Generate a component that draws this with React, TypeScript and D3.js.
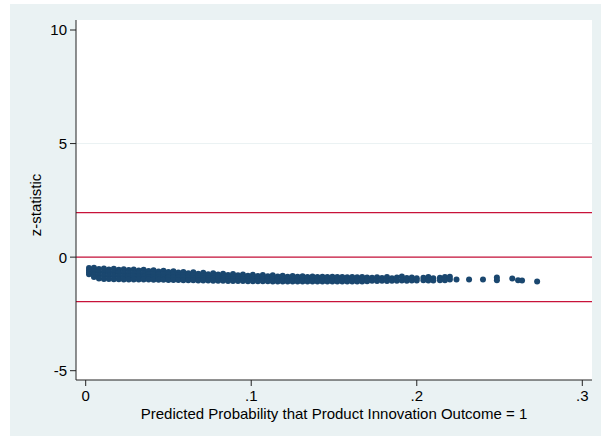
import React from "react";
import * as d3 from "d3";

// ---- data ----
const xTickValues = [0, 0.1, 0.2, 0.3];
const xTickLabels = ["0", ".1", ".2", ".3"];
const yTickValues = [-5, 0, 5, 10];
const yTickLabels = ["-5", "0", "5", "10"];
const yGridValues = [0, 5];
const refLines = [-1.96, 0, 1.96];

// dense band: columns of predicted probability with z-statistics
const bandX = [
  0.002, 0.005, 0.008, 0.011, 0.014, 0.017, 0.02, 0.023, 0.026, 0.029,
  0.032, 0.035, 0.038, 0.041, 0.044, 0.047, 0.05, 0.053, 0.056, 0.059,
  0.062, 0.065, 0.068, 0.071, 0.074, 0.077, 0.08, 0.083, 0.086, 0.089,
  0.092, 0.095, 0.098, 0.101, 0.104, 0.107, 0.11, 0.113, 0.116, 0.119,
  0.122, 0.125, 0.128, 0.131, 0.134, 0.137, 0.14, 0.143, 0.146, 0.149,
  0.152, 0.155, 0.158, 0.161, 0.164, 0.167, 0.17,
];
const bandTop = [
  -0.48, -0.47, -0.52, -0.5, -0.54, -0.51, -0.55, -0.53, -0.57, -0.54,
  -0.59, -0.56, -0.61, -0.58, -0.63, -0.6, -0.66, -0.62, -0.68, -0.65,
  -0.71, -0.67, -0.73, -0.69, -0.75, -0.71, -0.77, -0.73, -0.79, -0.74,
  -0.8, -0.76, -0.82, -0.78, -0.83, -0.79, -0.84, -0.8, -0.85, -0.82,
  -0.86, -0.83, -0.86, -0.84, -0.87, -0.85, -0.87, -0.86, -0.88, -0.86,
  -0.88, -0.87, -0.89, -0.87, -0.89, -0.88, -0.9,
];
const bandUpperMid = [
  -0.58, -0.62, -0.66, -0.66, -0.68, -0.67, -0.69, -0.69, -0.71, -0.7,
  -0.72, -0.72, -0.74, -0.74, -0.76, -0.76, -0.78, -0.78, -0.79, -0.79,
  -0.81, -0.81, -0.83, -0.83, -0.84, -0.84, -0.86, -0.86, -0.87, -0.87,
  -0.88, -0.88, -0.89, -0.89, -0.9, -0.9, -0.91, -0.91, -0.92, -0.92,
  -0.93, -0.93, -0.93, -0.94, -0.94, -0.94, -0.95, -0.95, -0.95, -0.95,
  -0.96, -0.96, -0.96, -0.96, -0.97, -0.97, -0.97,
];
const bandLowerMid = [
  -0.67, -0.76, -0.8, -0.81, -0.82, -0.82, -0.83, -0.84, -0.84, -0.85,
  -0.85, -0.86, -0.87, -0.87, -0.88, -0.88, -0.89, -0.89, -0.9, -0.9,
  -0.91, -0.92, -0.93, -0.93, -0.94, -0.94, -0.95, -0.95, -0.96, -0.96,
  -0.97, -0.97, -0.98, -0.98, -0.98, -0.99, -0.99, -0.99, -1.0, -1.0,
  -1.0, -1.0, -1.01, -1.01, -1.01, -1.01, -1.01, -1.01, -1.02, -1.02,
  -1.02, -1.02, -1.02, -1.02, -1.02, -1.02, -1.02,
];
const bandBottom = [
  -0.75, -0.88, -0.94, -0.96, -0.96, -0.97, -0.97, -0.98, -0.98, -0.98,
  -0.99, -0.99, -0.99, -1.0, -1.0, -1.0, -1.01, -1.01, -1.01, -1.02,
  -1.02, -1.02, -1.03, -1.03, -1.03, -1.04, -1.04, -1.04, -1.05, -1.05,
  -1.05, -1.05, -1.06, -1.06, -1.06, -1.06, -1.06, -1.07, -1.07, -1.07,
  -1.07, -1.07, -1.07, -1.07, -1.07, -1.07, -1.07, -1.07, -1.07, -1.07,
  -1.07, -1.07, -1.07, -1.07, -1.07, -1.07, -1.06,
];

// thinner part of the band
const thinX = [
  0.173, 0.176, 0.179, 0.182, 0.185, 0.188, 0.191, 0.194, 0.197, 0.2,
  0.204, 0.207, 0.21, 0.214, 0.217, 0.22,
];
const thinTop = [
  -0.91, -0.89, -0.92, -0.88, -0.93, -0.9, -0.85, -0.92, -0.9, -0.93,
  -0.91, -0.88, -0.93, -0.91, -0.87, -0.86,
];
const thinBottom = [
  -1.04, -1.05, -1.04, -1.05, -1.04, -1.04, -1.03, -1.04, -1.03, -1.03,
  -1.02, -1.03, -1.03, -1.02, -1.02, -0.99,
];

// isolated points at the high-probability tail
const tailX = [0.224, 0.2316, 0.24, 0.2484, 0.2484, 0.2577, 0.2612, 0.2636, 0.2727];
const tailY = [-0.98, -0.98, -0.98, -0.9, -1.02, -0.94, -1.02, -1.03, -1.07];

// ---- layout ----
const W = 601;
const H = 436;
const plotLeft = 76;
const plotRight = 592;
const plotTop = 20;
const plotBottom = 380;

const BG = "#eaf2f3";
const NAVY = "#1a476f";
const RED = "#c8123a";
const FONT = "'Liberation Sans', Arial, Helvetica, sans-serif";

export default function App() {
  const x = d3.scaleLinear().domain([0, 0.3]).range([85.7, 582.3]);
  const y = d3.scaleLinear().domain([-5, 10]).range([370.7, 30]);

  const points: { px: number; pz: number }[] = [];
  bandX.forEach((bx, i) => {
    [bandTop, bandUpperMid, bandLowerMid, bandBottom].forEach((row) => {
      points.push({ px: bx, pz: row[i] });
    });
  });
  thinX.forEach((tx, i) => {
    points.push({ px: tx, pz: thinTop[i] });
    points.push({ px: tx, pz: thinBottom[i] });
  });
  tailX.forEach((tx, i) => points.push({ px: tx, pz: tailY[i] }));

  return (
    <svg
      width={W}
      height={H}
      style={{ position: "absolute", left: 0, top: 0, background: "#ffffff" }}
      fontFamily={FONT}
    >
      <rect x={10} y={4} width={W - 10} height={H - 4} fill={BG} />
      <rect
        x={plotLeft}
        y={plotTop}
        width={plotRight - plotLeft}
        height={plotBottom - plotTop}
        fill="#ffffff"
      />
      {yGridValues.map((v) => (
        <line
          key={"g" + v}
          x1={plotLeft}
          x2={plotRight}
          y1={y(v)}
          y2={y(v)}
          stroke={BG}
          strokeWidth={1}
        />
      ))}
      {refLines.map((v) => (
        <line
          key={"r" + v}
          x1={plotLeft}
          x2={plotRight}
          y1={y(v)}
          y2={y(v)}
          stroke={RED}
          strokeWidth={1.3}
        />
      ))}
      <g fill={NAVY}>
        {points.map((p, i) => (
          <circle key={i} cx={x(p.px)} cy={y(p.pz)} r={3} />
        ))}
      </g>
      {/* axes */}
      <line x1={plotLeft} x2={plotLeft} y1={plotTop} y2={plotBottom} stroke="#222" strokeWidth={1} />
      <line x1={plotLeft} x2={plotRight} y1={plotBottom} y2={plotBottom} stroke="#222" strokeWidth={1} />
      {yTickValues.map((v, i) => (
        <g key={"yt" + v}>
          <line x1={plotLeft - 6} x2={plotLeft} y1={y(v)} y2={y(v)} stroke="#222" strokeWidth={1} />
          <text x={plotLeft - 9} y={y(v)} dy="0.36em" textAnchor="end" fontSize={15} fill="#000">
            {yTickLabels[i]}
          </text>
        </g>
      ))}
      {xTickValues.map((v, i) => (
        <g key={"xt" + v}>
          <line x1={x(v)} x2={x(v)} y1={plotBottom} y2={plotBottom + 6} stroke="#222" strokeWidth={1} />
          <text x={x(v)} y={401} textAnchor="middle" fontSize={15} fill="#000">
            {xTickLabels[i]}
          </text>
        </g>
      ))}
      <text
        x={(plotLeft + plotRight) / 2}
        y={419}
        textAnchor="middle"
        fontSize={15}
        fill="#000"
      >
        Predicted Probability that Product Innovation Outcome = 1
      </text>
      <text
        transform={`translate(41, 205) rotate(-90)`}
        textAnchor="middle"
        fontSize={15}
        fill="#000"
      >
        z-statistic
      </text>
    </svg>
  );
}
